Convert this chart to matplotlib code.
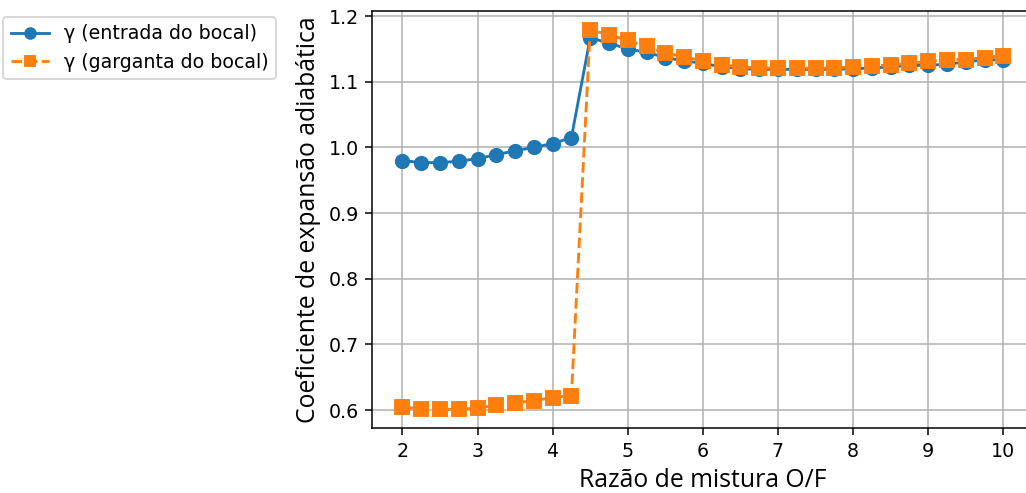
import numpy as np
import matplotlib
matplotlib.use("Agg")
import matplotlib.pyplot as plt

# razao O/F
of_ratio = [2.0, 2.25, 2.5, 2.75, 3.0, 3.25, 3.5, 3.75, 4.0, 4.25,
            4.5, 4.75, 5.0, 5.25, 5.5, 5.75, 6.0, 6.25, 6.5, 6.75,
            7.0, 7.25, 7.5, 7.75, 8.0, 8.25, 8.5, 8.75, 9.0, 9.25,
            9.5, 9.75, 10.0]

# gamma na entrada do bocal
gamma_entrada = [0.980, 0.977, 0.977, 0.979, 0.983, 0.989, 0.995, 1.000, 1.006, 1.015,
                 1.167, 1.159, 1.150, 1.145, 1.137, 1.132, 1.128, 1.123, 1.120, 1.119,
                 1.119, 1.119, 1.119, 1.119, 1.120, 1.121, 1.123, 1.125, 1.125, 1.127,
                 1.130, 1.134, 1.133]

# gamma na garganta do bocal
gamma_garganta = [0.605, 0.601, 0.601, 0.601, 0.603, 0.607, 0.611, 0.614, 0.619, 0.622,
                  1.179, 1.172, 1.163, 1.154, 1.144, 1.138, 1.132, 1.126, 1.123, 1.121,
                  1.121, 1.121, 1.121, 1.121, 1.123, 1.124, 1.126, 1.128, 1.131, 1.134,
                  1.134, 1.137, 1.140]

fig = plt.figure(figsize=(1026 / 137, 493 / 137), dpi=137)
ax = fig.add_axes([0.3629, 0.1312, 0.6443, 0.8465])

ax.plot(of_ratio, gamma_entrada, 'o-', markersize=7, label='γ (entrada do bocal)')
ax.plot(of_ratio, gamma_garganta, 's--', markersize=7, label='γ (garganta do bocal)')

ax.set_xlabel('Razão de mistura O/F', family='Open Sans', fontsize=13)
ax.set_ylabel('Coeficiente de expansão adiabática', family='Open Sans', fontsize=13)
ax.grid(True)

fig.legend(loc='upper left', bbox_to_anchor=(0.003, 0.966), borderaxespad=0,
           markerscale=0.8)

fig.savefig('out.png', dpi=137)
